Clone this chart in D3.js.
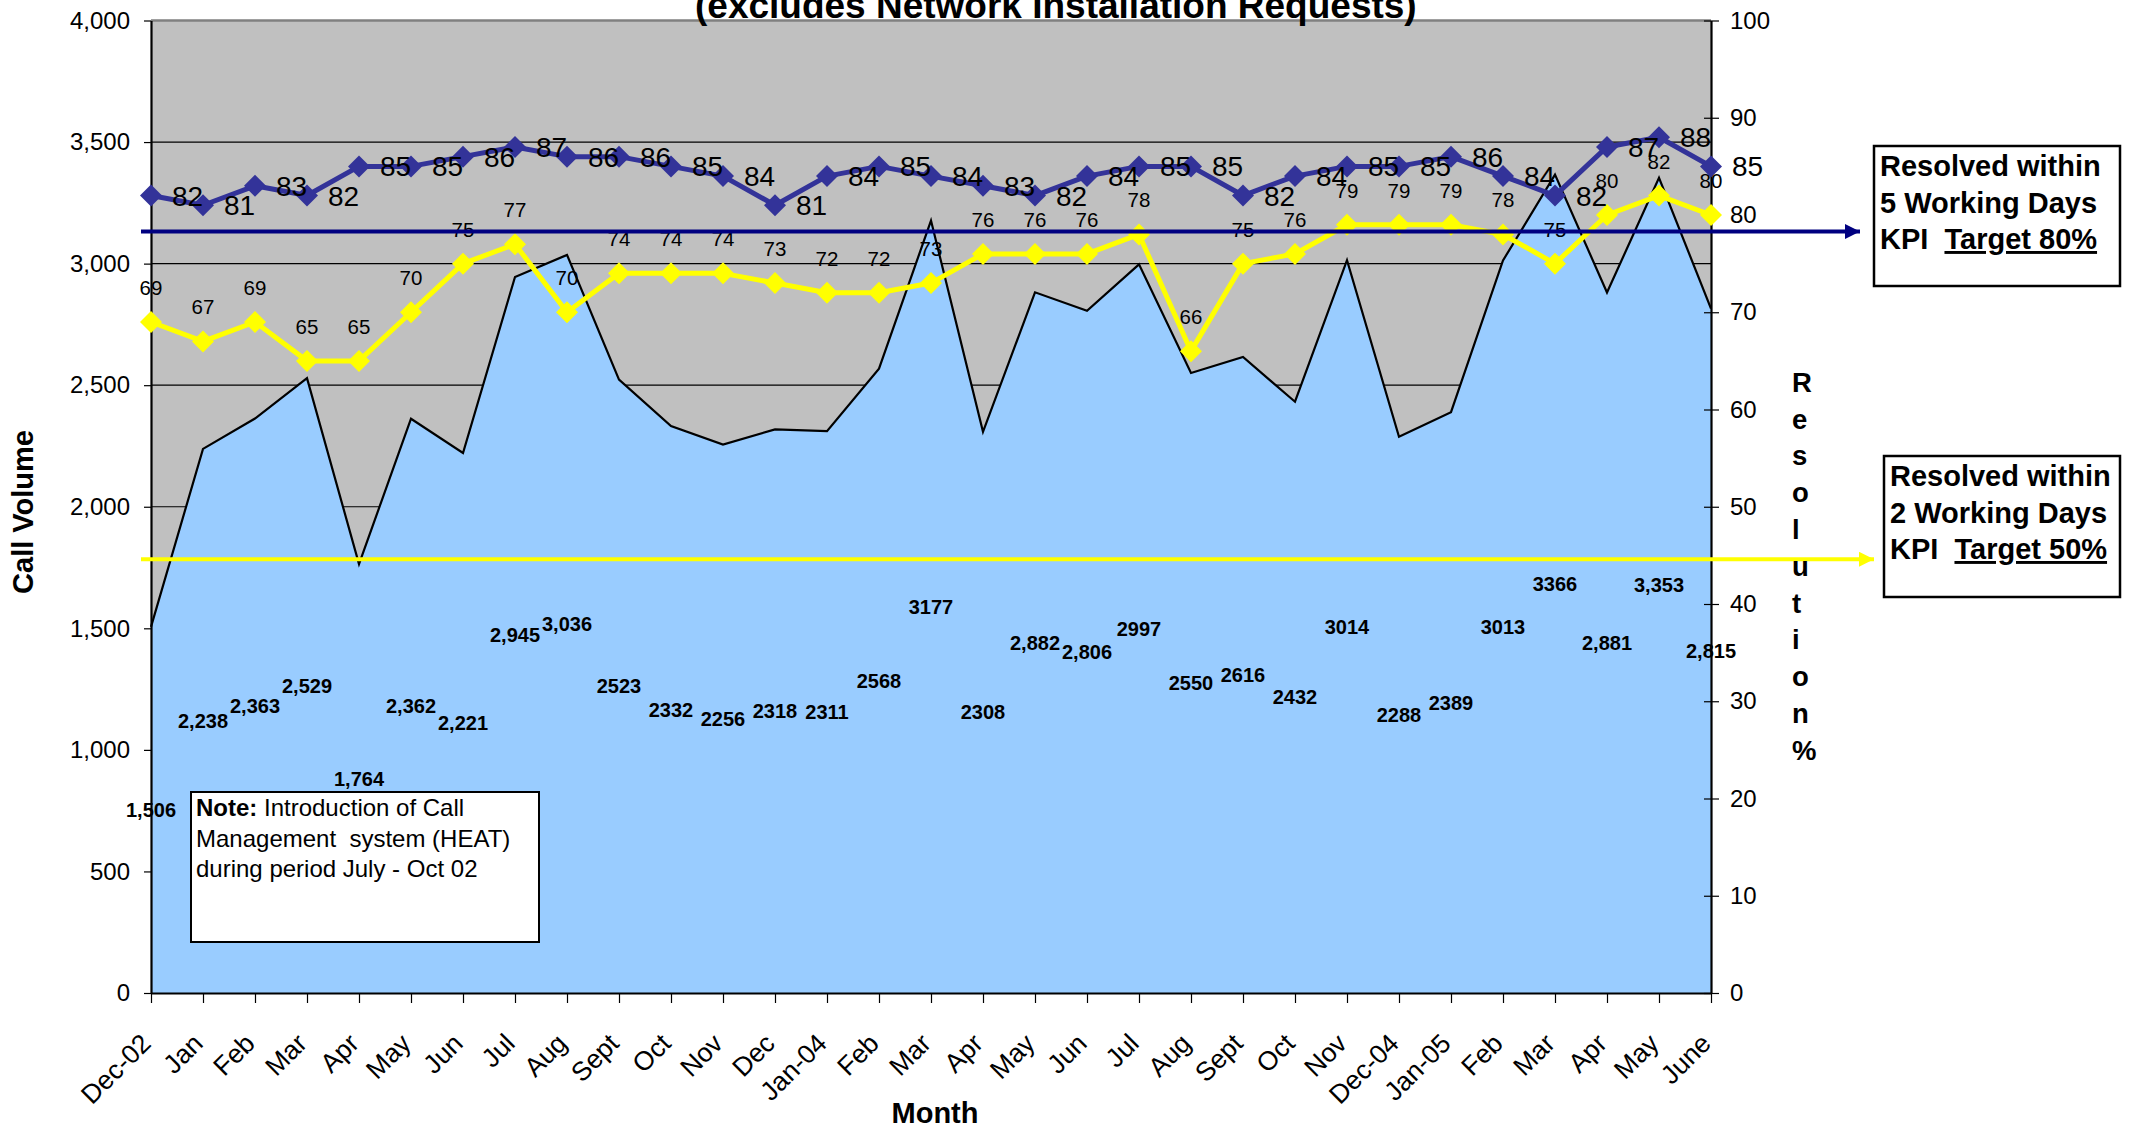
<!DOCTYPE html>
<html>
<head>
<meta charset="utf-8">
<script src="https://cdn.jsdelivr.net/npm/d3@7"></script>
<style>
  html, body { margin: 0; padding: 0; background: #fff; }
  svg { display: block; }
  text { font-family: "Liberation Sans", Arial, sans-serif; }
</style>
</head>
<body>
<svg id="chart" width="2134" height="1128"></svg>
<script>
// ---------------- DATA ----------------
const months = ["Dec-02","Jan","Feb","Mar","Apr","May","Jun","Jul","Aug","Sept","Oct","Nov","Dec",
  "Jan-04","Feb","Mar","Apr","May","Jun","Jul","Aug","Sept","Oct","Nov","Dec-04","Jan-05","Feb","Mar","Apr","May","June"];
const callVolume = [1506,2238,2363,2529,1764,2362,2221,2945,3036,2523,2332,2256,2318,2311,2568,3177,
  2308,2882,2806,2997,2550,2616,2432,3014,2288,2389,3013,3366,2881,3353,2815];
const volumeLabels = ["1,506","2,238","2,363","2,529","1,764","2,362","2,221","2,945","3,036","2523","2332","2256",
  "2318","2311","2568","3177","2308","2,882","2,806","2997","2550","2616","2432","3014","2288","2389","3013","3366",
  "2,881","3,353","2,815"];
const within5Days = [82,81,83,82,85,85,86,87,86,86,85,84,81,84,85,84,83,82,84,85,85,82,84,85,85,86,84,82,87,88,85];
const within2Days = [69,67,69,65,65,70,75,77,70,74,74,74,73,72,72,73,76,76,76,78,66,75,76,79,79,79,78,75,80,82,80];
const leftTicks = [0,500,1000,1500,2000,2500,3000,3500,4000];
const rightTicks = [0,10,20,30,40,50,60,70,80,90,100];
const targetArrows = [ {level: 78.3, color: "#000080", tipX: 1860},
                       {level: 44.6, color: "#FFFF00", tipX: 1874} ];
const titleText = "(excludes Network Installation Requests)";
const kpiBoxes = [
  {lines: ["Resolved within", "5 Working Days"], kpi: "Target 80%", x: 1874, y: 146, w: 246, h: 140},
  {lines: ["Resolved within", "2 Working Days"], kpi: "Target 50%", x: 1884, y: 456, w: 236, h: 141}
];
const noteLines = ["Management  system (HEAT)", "during period July - Oct 02"];
const rightTitle = "Resolution %";

// ---------------- LAYOUT ----------------
const L = 151, R = 1711, T = 20.5, B = 993;
const svg = d3.select("#chart");

const x = d3.scalePoint().domain(d3.range(months.length)).range([L, R]);
const yL = d3.scaleLinear().domain([0, 4000]).range([B, T]);
const yR = d3.scaleLinear().domain([0, 100]).range([B, T]);

// plot background
svg.append("rect").attr("x", L).attr("y", T).attr("width", R - L).attr("height", B - T).attr("fill", "#C0C0C0");

// gridlines
svg.append("g").selectAll("line").data(leftTicks.filter(d => d > 0 && d < 4000)).join("line")
  .attr("x1", L).attr("x2", R).attr("y1", d => yL(d)).attr("y2", d => yL(d))
  .attr("stroke", "#000").attr("stroke-width", 1.2);

// area
const idx = d3.range(months.length);
svg.append("path").datum(idx)
  .attr("d", d3.area().x(i => x(i)).y0(B).y1(i => yL(callVolume[i])))
  .attr("fill", "#99CCFF");
svg.append("path").datum(idx)
  .attr("d", d3.line().x(i => x(i)).y(i => yL(callVolume[i])))
  .attr("fill", "none").attr("stroke", "#000").attr("stroke-width", 2.2);

// top border
svg.append("line").attr("x1", L).attr("x2", R).attr("y1", T).attr("y2", T)
  .attr("stroke", "#808080").attr("stroke-width", 2.5);

// axes
const gL = svg.append("g").attr("transform", `translate(${L},0)`)
  .call(d3.axisLeft(yL).tickValues(leftTicks).tickFormat(d3.format(",")).tickSize(7).tickSizeOuter(0).tickPadding(14));
const gR = svg.append("g").attr("transform", `translate(${R},0)`)
  .call(d3.axisRight(yR).tickValues(rightTicks).tickSize(8).tickSizeOuter(0).tickPadding(11));
gR.selectAll(".tick line").attr("x1", -7).attr("x2", 8);
const gB = svg.append("g").attr("transform", `translate(0,${B})`)
  .call(d3.axisBottom(x).tickFormat(i => months[i]).tickSize(10).tickSizeOuter(0));
gB.selectAll(".tick text").attr("x", 0).attr("y", 0).attr("dy", 0)
  .attr("transform", "translate(1,52) rotate(-45)").style("text-anchor", "end");

[gL, gR, gB].forEach(g => {
  g.select(".domain").attr("stroke", "#000").attr("stroke-width", 2.2);
  g.selectAll(".tick line").attr("stroke", "#000").attr("stroke-width", 1.2);
  g.selectAll(".tick text").attr("fill", "#000").style("font-family", "'Liberation Sans', Arial, sans-serif");
});
gL.selectAll(".tick text").style("font-size", "24px");
gR.selectAll(".tick text").style("font-size", "24px");
gB.selectAll(".tick text").style("font-size", "26.5px");

// series lines
const diamond = r => `M0,${-r}L${r},0L0,${r}L${-r},0Z`;
function drawSeries(values, color) {
  svg.append("path").datum(idx)
    .attr("d", d3.line().x(i => x(i)).y(i => yR(values[i])))
    .attr("fill", "none").attr("stroke", color).attr("stroke-width", 5).attr("stroke-linejoin", "round");
  svg.append("g").selectAll("path").data(idx).join("path")
    .attr("transform", i => `translate(${x(i)},${yR(values[i])})`)
    .attr("d", diamond(11)).attr("fill", color);
}
drawSeries(within2Days, "#FFFF00");
drawSeries(within5Days, "#333399");

// labels: 5 day (right of point)
svg.append("g").selectAll("text").data(idx).join("text")
  .attr("x", i => x(i) + 21).attr("y", i => yR(within5Days[i]) + 10)
  .style("font-size", "28px").attr("fill", "#000")
  .text(i => within5Days[i]);
// labels: 2 day (above point)
svg.append("g").selectAll("text").data(idx).join("text")
  .attr("x", i => x(i)).attr("y", i => yR(within2Days[i]) - 27)
  .attr("text-anchor", "middle").style("font-size", "20.5px").attr("fill", "#000")
  .text(i => within2Days[i]);
// labels: call volume (centre of area)
svg.append("g").selectAll("text").data(idx).join("text")
  .attr("x", i => x(i)).attr("y", i => yL(callVolume[i] / 2) + 7)
  .attr("text-anchor", "middle").style("font-size", "20px").style("font-weight", "bold").attr("fill", "#000")
  .text(i => volumeLabels[i]);

// target arrows
const defs = svg.append("defs");
targetArrows.forEach((t, k) => {
  defs.append("marker").attr("id", "arrow" + k).attr("viewBox", "0 0 10 10")
    .attr("refX", 10).attr("refY", 5).attr("markerUnits", "userSpaceOnUse")
    .attr("markerWidth", 17).attr("markerHeight", 15).attr("orient", "auto")
    .append("path").attr("d", "M0,0L10,5L0,10Z").attr("fill", t.color);
  svg.append("line").attr("x1", 141).attr("x2", t.tipX)
    .attr("y1", yR(t.level)).attr("y2", yR(t.level))
    .attr("stroke", t.color).attr("stroke-width", 4).attr("marker-end", `url(#arrow${k})`);
});

// note box
svg.append("rect").attr("x", 191).attr("y", 792).attr("width", 348).attr("height", 150)
  .attr("fill", "#fff").attr("stroke", "#000").attr("stroke-width", 2);
const note = svg.append("text").attr("x", 196).attr("y", 816).style("font-size", "24px").style("white-space", "pre");
note.append("tspan").style("font-weight", "bold").text("Note:");
note.append("tspan").text(" Introduction of Call");
noteLines.forEach((ln, k) => {
  svg.append("text").attr("x", 196).attr("y", 846.5 + k * 30.5).style("font-size", "24px").style("white-space", "pre").text(ln);
});

// KPI boxes
kpiBoxes.forEach(b => {
  svg.append("rect").attr("x", b.x).attr("y", b.y).attr("width", b.w).attr("height", b.h)
    .attr("fill", "#fff").attr("stroke", "#000").attr("stroke-width", 2.5);
  b.lines.forEach((ln, k) => {
    svg.append("text").attr("x", b.x + 6).attr("y", b.y + 30 + k * 36.5)
      .style("font-size", "29px").style("font-weight", "bold").text(ln);
  });
  const t = svg.append("text").attr("x", b.x + 6).attr("y", b.y + 30 + 2 * 36.5)
    .style("font-size", "29px").style("font-weight", "bold").style("white-space", "pre");
  t.append("tspan").text("KPI  ");
  t.append("tspan").style("text-decoration", "underline").text(b.kpi);
});

// axis titles
svg.append("text").attr("transform", "translate(33,512) rotate(-90)").attr("text-anchor", "middle")
  .style("font-size", "29px").style("font-weight", "bold").text("Call Volume");
svg.append("text").attr("x", 935).attr("y", 1123).attr("text-anchor", "middle")
  .style("font-size", "29px").style("font-weight", "bold").text("Month");
svg.append("g").selectAll("text").data(Array.from(rightTitle.replace(" ", ""))).join("text")
  .attr("x", 1792).attr("y", (d, k) => 391.7 + k * 36.8)
  .style("font-size", "27.5px").style("font-weight", "bold").text(d => d);

// title (partially cut off at top)
svg.append("text").attr("x", 695).attr("y", 17.5)
  .style("font-size", "37px").style("font-weight", "bold").text(titleText);
</script>
</body>
</html>
